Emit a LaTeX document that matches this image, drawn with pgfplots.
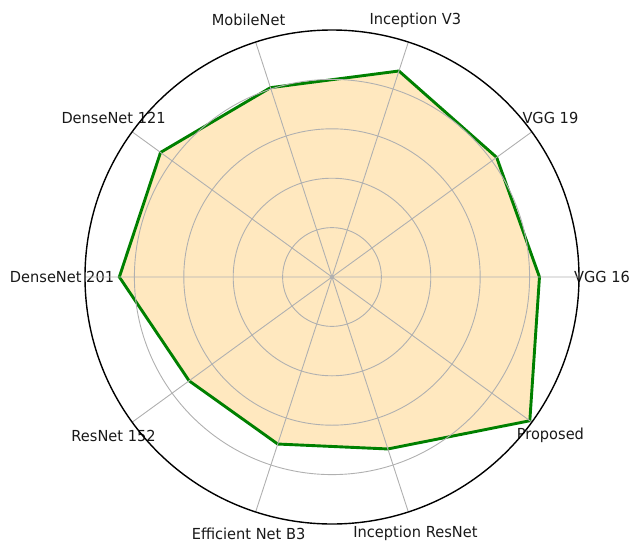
\documentclass[border=0pt]{standalone}
\usepackage{fontspec}
\setmainfont{DejaVu Sans}[FakeStretch=0.96]
\usepackage{pgfplots}
\pgfplotsset{compat=1.18}
\usepgfplotslibrary{polar}
\definecolor{mplorange}{RGB}{255,165,0}
\definecolor{mplgreen}{RGB}{0,128,0}
\definecolor{gridgray}{RGB}{176,176,176}
\tikzset{lab/.style={font=\fontsize{7.6}{9}\selectfont, text=black!90, inner sep=0pt}}
\begin{document}
\begin{tikzpicture}
\begin{polaraxis}[
  at={(0,0)}, anchor=origin,
  scale only axis, width=247pt, height=247pt,
  xmin=0, xmax=360, ymin=0, ymax=100,
  xtick={0,36,...,324}, xticklabels={},
  ytick={20,40,60,80}, yticklabels={},
  major tick length=0pt,
  grid=major,
  axis on top,
  major grid style={color=gridgray, line width=0.45pt},
  x axis line style={black, line width=0.7pt},
  y axis line style={draw=none},
  clip=false,
]
\addplot[draw=mplgreen, line width=1.45pt, fill=mplorange, fill opacity=0.25, draw opacity=1, line join=miter]
  coordinates {(0,84) (36,82.4) (72,87.7) (108,80.6) (144,85.8) (180,86.1) (216,71.5) (252,71.1) (288,73.2) (324,99)} -- cycle;
\node[lab] at (axis cs:0,109.3) {VGG 16};
\node[lab] at (axis cs:36,109.3) {VGG 19};
\node[lab] at (axis cs:72,109.3) {Inception V3};
\node[lab] at (axis cs:108,109.3) {MobileNet};
\node[lab] at (axis cs:144,109.3) {DenseNet 121};
\node[lab] at (axis cs:180,109.3) {DenseNet 201};
\node[lab] at (axis cs:216,109.3) {ResNet 152};
\node[lab] at (axis cs:252,109.3) {Efficient Net B3};
\node[lab] at (axis cs:288,109.3) {Inception ResNet};
\node[lab] at (axis cs:324,109.3) {Proposed};
\end{polaraxis}
\pgfresetboundingbox
\path[use as bounding box] (-166pt,-132.5pt) rectangle (150pt,138.5pt);
\end{tikzpicture}
\end{document}
